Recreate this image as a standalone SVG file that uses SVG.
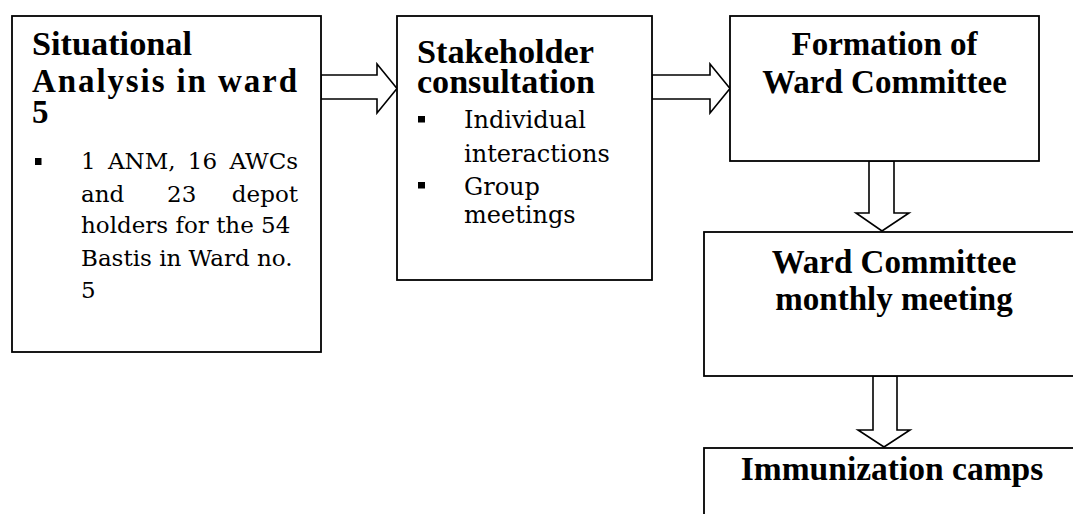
<svg xmlns="http://www.w3.org/2000/svg" width="1073" height="514" viewBox="0 0 1073 514">
<style>
.box{fill:#fff;stroke:#000;stroke-width:1.8}
.arr{fill:#fff;stroke:#000;stroke-width:1.6;stroke-linejoin:miter}
.tb{font-family:"Liberation Serif","Times New Roman",serif;font-weight:bold;fill:#000}
.tc{font-family:"DejaVu Serif","Liberation Serif",serif;fill:#000}
.bul{fill:#000}
</style>
<rect width="1073" height="514" fill="#fff"/>
<g id="connectors">
<polygon class="arr" points="321,75 377,75 377,64 397,88.5 377,113 377,99 321,99"/>
<polygon class="arr" points="652,75 710,75 710,64 730,88.5 710,113 710,99 652,99"/>
<polygon class="arr" points="869,161 894,161 894,213 909,213 882,231 856,213 869,213"/>
<polygon class="arr" points="873,376 897,376 897,430 910,430 884,447 858,430 873,430"/>
</g>
<g id="node-situational">
<rect class="box" x="12" y="16" width="309" height="336"/>
<text class="tb" font-size="33" x="32" y="55" textLength="160" lengthAdjust="spacingAndGlyphs">Situational</text>
<text class="tb" font-size="33" x="32" y="92" textLength="265" lengthAdjust="spacing">Analysis in ward</text>
<text class="tb" font-size="33" x="32" y="123">5</text>
<rect class="bul" x="35" y="158" width="6.5" height="7"/>
<text class="tc" font-size="23" x="81" y="169" word-spacing="5">1 ANM, 16 AWCs</text>
<text class="tc" font-size="23" y="202"><tspan x="81">and</tspan><tspan x="167">23</tspan><tspan x="298" text-anchor="end">depot</tspan></text>
<text class="tc" font-size="23" x="81" y="233">holders for the 54</text>
<text class="tc" font-size="23" x="81" y="266">Bastis in Ward no.</text>
<text class="tc" font-size="23" x="81" y="298">5</text>
</g>
<g id="node-stakeholder">
<rect class="box" x="397" y="16" width="255" height="264"/>
<text class="tb" font-size="33" x="417" y="63" textLength="177" lengthAdjust="spacingAndGlyphs">Stakeholder</text>
<text class="tb" font-size="33" x="417" y="93" textLength="178" lengthAdjust="spacingAndGlyphs">consultation</text>
<rect class="bul" x="418" y="116" width="7" height="6.5"/>
<text class="tc" font-size="24" x="464" y="128">Individual</text>
<text class="tc" font-size="24" x="464" y="162">interactions</text>
<rect class="bul" x="418" y="182" width="7" height="6.5"/>
<text class="tc" font-size="24" x="464" y="195">Group</text>
<text class="tc" font-size="24" x="464" y="223">meetings</text>
</g>
<g id="node-formation">
<rect class="box" x="730" y="16" width="309" height="145"/>
<text class="tb" font-size="33" x="884.5" y="55" text-anchor="middle">Formation of</text>
<text class="tb" font-size="33" x="884.5" y="93" text-anchor="middle">Ward Committee</text>
</g>
<g id="node-monthly">
<rect class="box" x="704" y="232" width="380" height="144"/>
<text class="tb" font-size="33" x="894" y="273" text-anchor="middle">Ward Committee</text>
<text class="tb" font-size="33" x="894" y="310" text-anchor="middle">monthly meeting</text>
</g>
<g id="node-immunization">
<rect class="box" x="704" y="448" width="400" height="100"/>
<text class="tb" font-size="33.5" x="892" y="480" text-anchor="middle">Immunization camps</text>
</g>
</svg>
